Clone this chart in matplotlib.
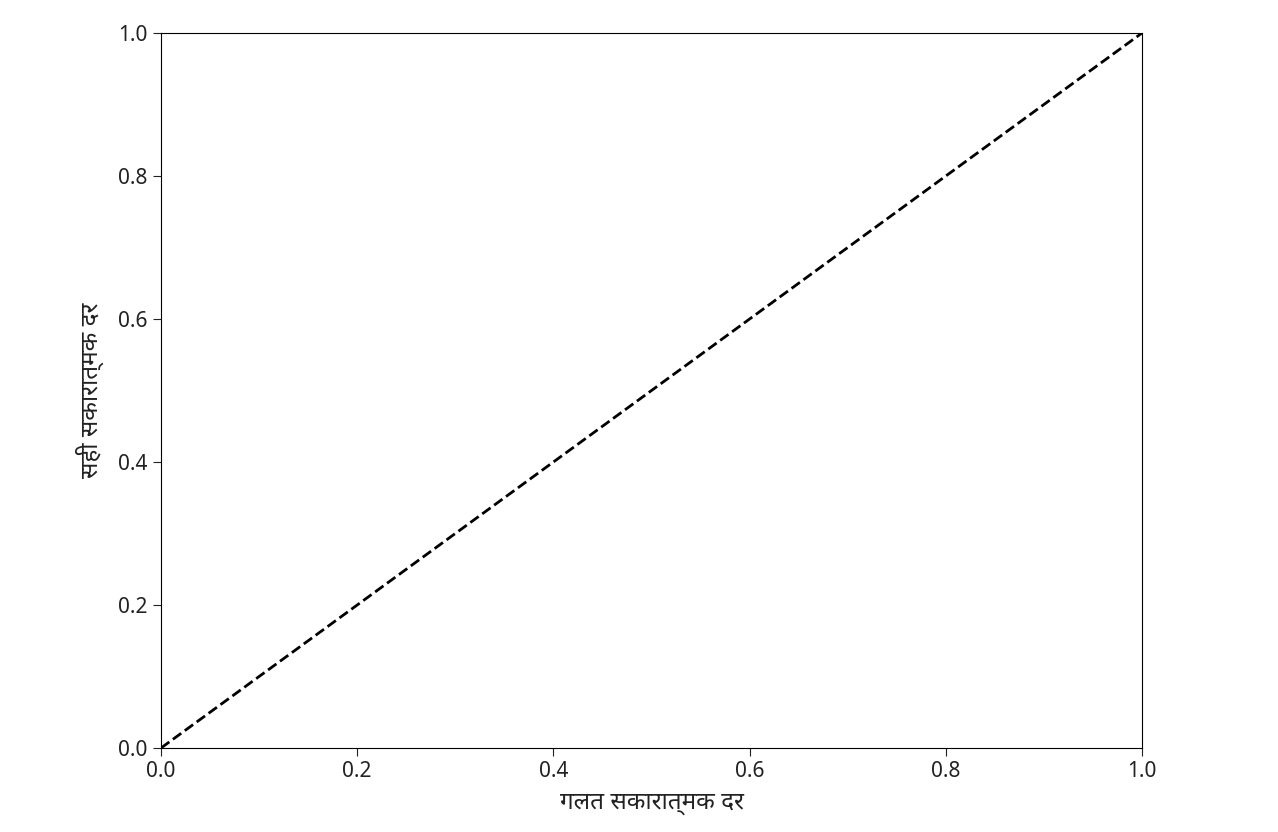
import matplotlib
matplotlib.use("Agg")
import matplotlib.pyplot as plt

plt.rcParams['font.family'] = ['Noto Sans', 'DejaVu Sans']

# diagonal reference of a ROC plot
fpr = [0.0, 1.0]
tpr = [0.0, 1.0]
ticks = [0.0, 0.2, 0.4, 0.6, 0.8, 1.0]
xlabel = 'गलत सकारात्मक दर'
ylabel = 'सही सकारात्मक दर'

fig = plt.figure(figsize=(12.78, 8.32), dpi=100)
ax = fig.add_axes([161/1278, 1 - 748/832, (1142 - 161)/1278, (748 - 33)/832])
ax.plot(fpr, tpr, 'k--', lw=2)
ax.set_xlim(0, 1)
ax.set_ylim(0, 1)
ax.set_xticks(ticks)
ax.set_yticks(ticks)
ax.tick_params(labelsize=15, length=6, colors='#222222')
ax.set_xlabel(xlabel, fontsize=17.5, color='#222222', labelpad=6)
ax.set_ylabel(ylabel, fontsize=17.5, color='#222222', labelpad=10)

fig.savefig('out.png', dpi=100)
